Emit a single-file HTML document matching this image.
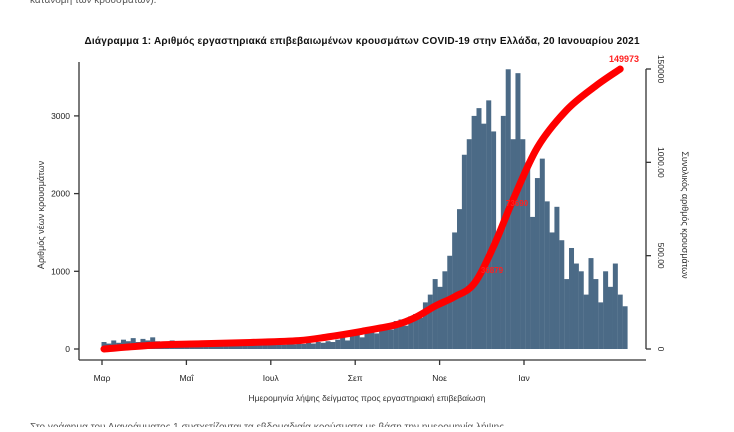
<!DOCTYPE html>
<html><head><meta charset="utf-8"><style>
body{margin:0;background:#fff;width:734px;height:427px;overflow:hidden;font-family:"Liberation Sans",sans-serif}
</style></head><body>
<svg id="chart" width="734" height="427" viewBox="0 0 734 427" xmlns="http://www.w3.org/2000/svg" font-family="Liberation Sans, sans-serif">
<text x="30" y="3" font-size="10" fill="#555">κατανομή των κρουσμάτων).</text>
<text x="362" y="44" font-size="10" font-weight="bold" text-anchor="middle" fill="#111" textLength="555">Διάγραμμα 1: Αριθμός εργαστηριακά επιβεβαιωμένων κρουσμάτων COVID-19 στην Ελλάδα, 20 Ιανουαρίου 2021</text>
<g id="bars"></g>
<g id="axes"></g>
<path id="cum" fill="none" stroke="#ff0000" stroke-width="7" stroke-linecap="round" stroke-linejoin="round"/>
<text x="624" y="62" font-size="9" font-weight="bold" fill="#ff2020" text-anchor="middle">149973</text>
<text x="492" y="273" font-size="8" font-weight="bold" fill="#ff2020" text-anchor="middle">36879</text>
<text x="517" y="206" font-size="8" font-weight="bold" fill="#ff2020" text-anchor="middle">73690</text>
<text transform="translate(44,215) rotate(-90)" font-size="9" text-anchor="middle" fill="#333">Αριθμός νέων κρουσμάτων</text>
<text transform="translate(682,215) rotate(90)" font-size="9" text-anchor="middle" fill="#333">Συνολικός αριθμός κρουσμάτων</text>
<text x="367" y="401" font-size="8.5" text-anchor="middle" fill="#333">Ημερομηνία λήψης δείγματος προς εργαστηριακή επιβεβαίωση</text>
<text x="30" y="430" font-size="10" fill="#555">Στο γράφημα του Διαγράμματος 1 συσχετίζονται τα εβδομαδιαία κρούσματα με βάση την ημερομηνία λήψης</text>
</svg>
<script>
const dailyCases=[90,70,110,80,120,100,140,90,130,110,150,100,90,80,110,70,90,60,80,60,70,50,60,50,60,45,55,40,50,45,55,45,60,50,60,55,65,55,70,60,70,65,80,70,90,80,100,90,
120,150,110,180,200,150,240,260,200,300,320,250,360,380,300,420,
450,400,600,700,900,800,1000,1200,1500,1800,2500,2700,3000,3100,2900,
3200,2800,1500,3000,3600,2700,3550,2700,2400,1700,2200,2450,
1900,1500,1830,1400,900,1300,1100,1000,700,1170,900,600,1000,800,1100,700,550];
const cumIdx=[0,10,20,30,40,46,53,60,64,68,72,76,80,84,89,95,101,106];
const cumVal=[0,2000,2800,3500,4500,6500,9500,13000,17000,23000,28000,35000,55000,80000,108000,128000,141000,149973];
const leftTicks=[0,1000,2000,3000];
const rightTicks=[0,50000,100000,150000];
const rightTickLabels=["0","500.00","1000.00","150000"];
const xTickLabels=["Μαρ","Μαΐ","Ιουλ","Σεπ","Νοε","Ιαν"];

const NS="http://www.w3.org/2000/svg";
const x=i=>104+i*4.87;
const yL=v=>349-v*0.0777;
const yR=v=>349-v*(280/150000);
function mk(t,a,p){const e=document.createElementNS(NS,t);for(const k in a)e.setAttribute(k,a[k]);p.appendChild(e);return e;}
const bars=document.getElementById('bars');
dailyCases.forEach((v,i)=>{
  const r=mk('rect',{x:x(i)-2.5,y:yL(v),width:5.0,height:349-yL(v),fill:'#4b6a86'},bars);
  
  
});
const ax=document.getElementById('axes');
const st={stroke:'#333','stroke-width':1.3};
let l=mk('line',Object.assign({x1:79,y1:62,x2:79,y2:360},st),ax);


l=mk('line',Object.assign({x1:79,y1:360,x2:646,y2:360},st),ax);


l=mk('line',Object.assign({x1:646,y1:yR(150000),x2:646,y2:349},st),ax);


leftTicks.forEach(v=>{
  mk('line',Object.assign({x1:74,y1:yL(v),x2:79,y2:yL(v)},st),ax);
  const t=mk('text',{x:70,y:yL(v)+3,'font-size':8.5,'text-anchor':'end',fill:'#222'},ax);
  t.textContent=v;
  
  
});
rightTicks.forEach((v,k)=>{
  mk('line',Object.assign({x1:646,y1:yR(v),x2:651,y2:yR(v)},st),ax);
  const t=mk('text',{transform:`translate(658,${yR(v)}) rotate(90)`,'font-size':8.5,'text-anchor':'middle',fill:'#222'},ax);
  t.textContent=rightTickLabels[k];
  
  
});
xTickLabels.forEach((s,k)=>{
  const xx=102+k*84.4;
  mk('line',Object.assign({x1:xx,y1:360,x2:xx,y2:365},st),ax);
  const t=mk('text',{x:xx,y:381,'font-size':8.5,'text-anchor':'middle',fill:'#222'},ax);
  t.textContent=s;
  
  
});
const pts=cumIdx.map((i,k)=>[x(i),yR(cumVal[k])]);
let d='M'+pts[0][0]+','+pts[0][1];
for(let k=0;k<pts.length-1;k++){
  const p0=pts[Math.max(k-1,0)],p1=pts[k],p2=pts[k+1],p3=pts[Math.min(k+2,pts.length-1)];
  const c1=[p1[0]+(p2[0]-p0[0])/6,p1[1]+(p2[1]-p0[1])/6];
  const c2=[p2[0]-(p3[0]-p1[0])/6,p2[1]-(p3[1]-p1[1])/6];
  d+=` C${c1[0]},${c1[1]} ${c2[0]},${c2[1]} ${p2[0]},${p2[1]}`;
}
document.getElementById('cum').setAttribute('d',d);
</script>
</body></html>
